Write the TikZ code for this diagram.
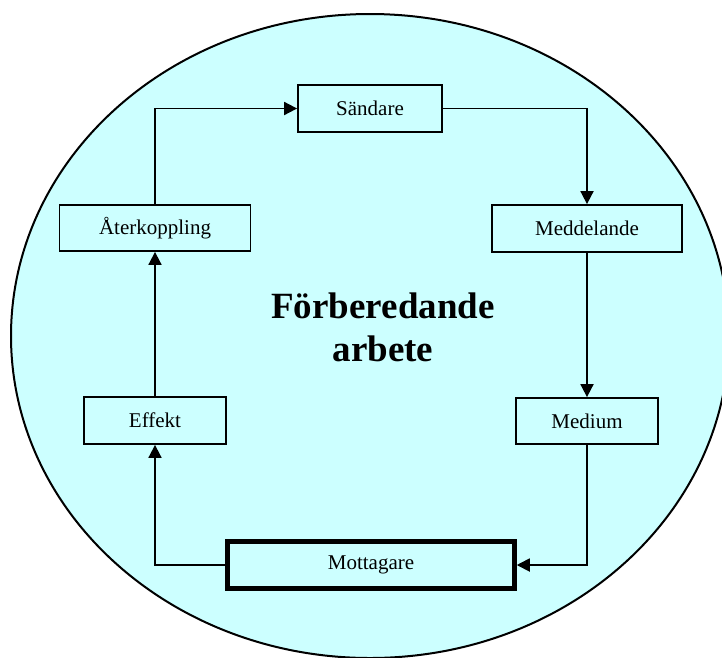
\documentclass[tikz,border=0pt]{standalone}
\usepackage{fontspec}
\setmainfont{Liberation Serif}
\usetikzlibrary{arrows.meta}
\definecolor{paleCyan}{HTML}{CCFFFF}
\begin{document}
\begin{tikzpicture}[x=1pt,y=-1pt,
  stepbox/.style={draw=black, fill=paleCyan, line width=1.8pt, inner sep=0pt,
    font=\fontsize{21}{25}\selectfont},
  conn/.style={line width=1.8pt, -{Triangle[length=13pt,width=13pt]}}]
\clip (0,0) rectangle (722,657);
\fill[white] (0,0) rectangle (722,657);
\draw[fill=paleCyan, line width=2pt] (370,336) ellipse [x radius=359pt, y radius=322pt];

\node[stepbox, minimum width=144pt, minimum height=47pt] (sand) at (370,108.5) {Sändare};
\node[stepbox, minimum width=191pt, minimum height=46pt] (aater) at (155,228) {Återkoppling};
\node[stepbox, minimum width=190pt, minimum height=47pt] (medd) at (587,228.5) {Meddelande};
\node[stepbox, minimum width=142pt, minimum height=47pt] (eff) at (155,420.5) {Effekt};
\node[stepbox, minimum width=142pt, minimum height=46pt] (med) at (587,421) {Medium};
\node[stepbox, line width=4.5pt, minimum width=287pt, minimum height=47pt] (mott) at (371,565) {Mottagare};

\node[font=\fontsize{37}{43}\selectfont\bfseries, align=center] (title) at (383,327) {Förberedande\\arbete};

\draw[conn] (aater.north) |- (sand.west);
\draw[conn] (sand.east) -| (medd.north);
\draw[conn] (medd.south) -- (med.north);
\draw[conn] (med.south) |- (mott.east);
\draw[conn] (mott.west) -| (eff.south);
\draw[conn] (eff.north) -- (aater.south);
\end{tikzpicture}
\end{document}
